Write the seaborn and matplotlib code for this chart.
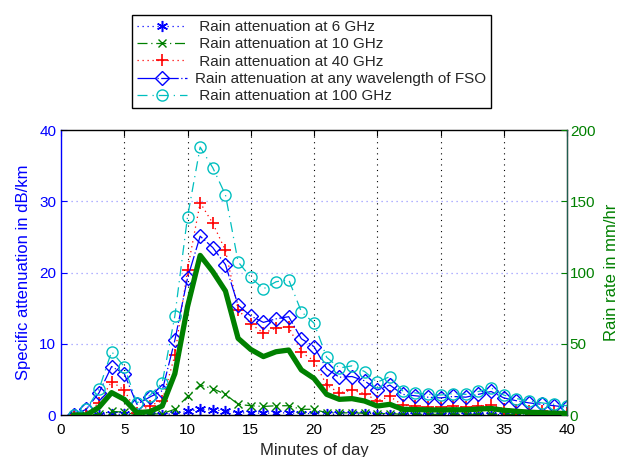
import numpy as np
import pandas as pd
import matplotlib
matplotlib.use("Agg")
import matplotlib.pyplot as plt
import seaborn as sns

# Minute index of each sample
minutes = list(range(1, 41))

# Specific attenuation (dB/km)
att_6ghz = [0, 0, 0, 0.1, 0.1, 0, 0, 0.05, 0.2, 0.5, 0.8, 0.7, 0.6, 0.3, 0.3, 0.25, 0.3, 0.3, 0.2, 0.2,
            0.1, 0.1, 0.1, 0.1, 0.05, 0.05, 0.05, 0.05, 0.05, 0.05, 0.05, 0.05, 0.05, 0.05, 0.05, 0, 0, 0, 0, 0]
att_10ghz = [0, 0, 0.1, 0.5, 0.4, 0, 0.1, 0.2, 0.8, 2.6, 4.2, 3.7, 2.9, 1.5, 1.3, 1.2, 1.3, 1.3, 0.8, 0.8,
             0.3, 0.3, 0.3, 0.25, 0.2, 0.2, 0.1, 0.1, 0.1, 0.1, 0.1, 0.1, 0.1, 0.1, 0.1, 0.05, 0.05, 0.05, 0.05, 0.05]
att_40ghz = [0, 0.2, 1.7, 4.7, 3.5, 0.3, 1.3, 2.0, 8.4, 20.4, 29.8, 26.9, 23.1, 14.8, 12.8, 11.5, 12.2, 12.4, 8.8, 7.6,
             4.2, 3.1, 3.5, 3.0, 2.0, 2.6, 1.4, 1.2, 1.1, 1.1, 1.2, 1.1, 1.3, 1.4, 0.9, 0.7, 0.6, 0.5, 0.4, 0.3]
att_fso = [0, 0.8, 3.1, 6.8, 5.8, 1.5, 2.5, 3.4, 10.5, 19.2, 25.1, 23.5, 21.1, 15.4, 13.9, 13.0, 13.5, 13.8, 10.7, 9.6,
           6.5, 5.3, 5.4, 4.8, 3.5, 4.2, 2.9, 2.7, 2.5, 2.4, 2.6, 2.5, 2.9, 3.3, 2.4, 2.0, 1.7, 1.5, 1.3, 1.1]
att_100ghz = [0, 0.8, 3.6, 8.9, 6.8, 1.7, 2.7, 4.5, 13.9, 27.8, 37.6, 34.7, 30.9, 21.5, 19.3, 17.7, 18.7, 19.0, 14.5, 12.9,
              8.1, 6.6, 6.9, 6.1, 4.6, 5.4, 3.4, 3.1, 2.9, 2.8, 3.0, 2.9, 3.3, 3.8, 2.8, 2.3, 2.0, 1.7, 1.5, 1.3]

# Rain rate (mm/hr)
rain_rate = [0, 0, 5.4, 15.7, 11, 1.6, 2.3, 6.3, 29, 76, 112, 100.6, 87, 53.8, 46, 41, 44.4, 45.6, 31.6, 25.7,
             14.5, 11, 11.5, 9.8, 6.3, 7.5, 4.0, 3.8, 3.6, 3.5, 3.7, 3.6, 4.2, 4.6, 3.3, 2.6, 2.0, 1.6, 1.3, 1.0]

labels = [" Rain attenuation at 6 GHz", " Rain attenuation at 10 GHz", " Rain attenuation at 40 GHz",
          "Rain attenuation at any wavelength of FSO", " Rain attenuation at 100 GHz"]

xticks = [0, 5, 10, 15, 20, 25, 30, 35, 40]
left_ticks = [0, 10, 20, 30, 40]
right_ticks = [0, 50, 100, 150, 200]

sns.set_style("white")
plt.rcParams["font.family"] = ["Liberation Sans", "DejaVu Sans"]

df = pd.DataFrame({"minute": minutes, "a6": att_6ghz, "a10": att_10ghz, "a40": att_40ghz,
                   "fso": att_fso, "a100": att_100ghz, "rain": rain_rate})

blue = "#0000FF"
green = "#008000"
red = "#FF0000"
cyan = "#00BFBF"

fig = plt.figure(figsize=(6.18, 4.57), dpi=100)
ax = fig.add_axes([0.0987, 0.0919, 0.8188, 0.6236])
ax2 = ax.twinx()

asterisk = (6, 2, 0)
styles = [
    ("a6", blue, (0, (1, 3)), asterisk, dict(markersize=8, markeredgewidth=1.1)),
    ("a10", green, (0, (8, 3, 1, 3)), "x", dict(markersize=6, markeredgewidth=1.0)),
    ("a40", red, (0, (1, 3)), "+", dict(markersize=9, markeredgewidth=1.2)),
    ("fso", blue, (0, (14, 2, 1, 2)), "D", dict(markersize=7, markerfacecolor="none", markeredgewidth=1.0)),
    ("a100", cyan, (0, (8, 4, 1, 4)), "o", dict(markersize=8, markerfacecolor="none", markeredgewidth=1.0)),
]

handles = []
for (col, color, ls, mk, kw), lab in zip(styles, labels):
    sns.lineplot(data=df, x="minute", y=col, ax=ax, color=color, linestyle=ls, linewidth=0.9,
                 marker=mk, markeredgecolor=color, label=lab, legend=False, **kw)
    handles.append(ax.lines[-1])

sns.lineplot(data=df, x="minute", y="rain", ax=ax2, color=green, linewidth=3.8, legend=False)

# Left axis
ax.set_xlim(0, 40)
ax.set_ylim(0, 40)
ax.set_xticks(xticks)
ax.set_yticks(left_ticks)
ax.tick_params(axis="x", direction="in", top=True, length=4, labelsize=11, colors="black", pad=6)
ax.tick_params(axis="y", direction="in", length=4, labelsize=11, colors=blue)
ax.spines["left"].set_color(blue)
ax.spines["top"].set_color("black")
ax.spines["bottom"].set_color("black")
for s in ax.spines.values():
    s.set_linewidth(1.0)
ax.set_xlabel("Minutes of day", fontsize=12, labelpad=4)
ax.set_ylabel("Specific attenuation in dB/km", fontsize=12, color=blue, labelpad=6)

# Grid
for xv in xticks[1:-1]:
    ax.axvline(xv, color="black", linestyle=(0, (1, 4)), linewidth=0.8, zorder=0)
for yv in left_ticks[1:-1]:
    ax.axhline(yv, color="#9999FF", linestyle=(0, (1, 3)), linewidth=0.9, zorder=0)

# Right axis
ax2.set_ylim(0, 200)
ax2.set_yticks(right_ticks)
ax2.tick_params(axis="y", direction="in", length=4, labelsize=11, colors=green, pad=2)
ax2.spines["right"].set_color("#1F5F4F")
ax2.spines["left"].set_visible(False)
ax2.spines["top"].set_visible(False)
ax2.spines["bottom"].set_visible(False)
ax2.set_ylabel("Rain rate in mm/hr", fontsize=12, color=green, labelpad=6)

leg = fig.legend(handles=handles, labels=labels, loc="center", bbox_to_anchor=(0.504, 0.865),
                 fontsize=11, frameon=True, fancybox=False, edgecolor="black", framealpha=1,
                 handlelength=3.3, labelspacing=0.22, borderpad=0.3, handletextpad=0.5,
                 borderaxespad=0)
leg.get_frame().set_linewidth(1.0)

fig.savefig("out.png", dpi=100)
